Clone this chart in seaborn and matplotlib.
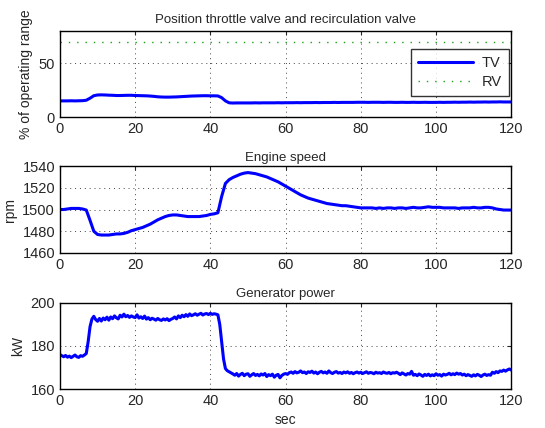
import numpy as np
import pandas as pd
import matplotlib
matplotlib.use('Agg')
import matplotlib.pyplot as plt
import seaborn as sns

# time axes
t_1s = np.arange(0, 121, 1.0)
t_half = np.arange(0, 120.5, 0.5)

# throttle valve position (% of operating range), 1 s steps
tv_pos = [15.0, 15.0, 15.0, 15.1, 15.0, 15.1, 15.2, 15.6,
          17.5, 19.8, 20.5, 20.6, 20.5, 20.3, 20.2, 20.0, 20.0, 20.1, 20.2, 20.2,
          20.0, 19.9, 19.8, 19.7, 19.5, 19.2, 18.8, 18.6, 18.5, 18.5,
          18.6, 18.7, 18.9, 19.1, 19.3, 19.5, 19.6, 19.7, 19.8, 19.8,
          19.7, 19.7, 19.6, 18.0, 15.0, 13.2, 13.0, 13.1, 13.1, 13.1,
          13.1, 13.1, 13.2, 13.1, 13.2, 13.2, 13.2, 13.2, 13.3, 13.2,
          13.3, 13.3, 13.3, 13.4, 13.3, 13.4, 13.4, 13.4, 13.5, 13.4,
          13.5, 13.5, 13.5, 13.6, 13.5, 13.6, 13.6, 13.6, 13.6, 13.7,
          13.7, 13.7, 13.6, 13.7, 13.7, 13.7, 13.6, 13.7, 13.7, 13.6,
          13.6, 13.7, 13.6, 13.6, 13.7, 13.6, 13.6, 13.7, 13.6, 13.6,
          13.6, 13.7, 13.6, 13.7, 13.7, 13.8, 13.7, 13.8, 13.8, 13.9,
          13.8, 13.9, 13.9, 14.0, 13.9, 14.0, 14.0, 14.1, 14.0, 14.0, 14.0]

# recirculation valve position, 1 s steps
rv_pos = [70.0] * 121

# engine speed (rpm), 1 s steps
engine_rpm = [1500, 1500, 1500.5, 1501, 1501, 1501, 1500.5, 1499.5, 1490, 1480,
              1477, 1476.5, 1476.5, 1476.5, 1477, 1477.5, 1477.5, 1478, 1479, 1480.5,
              1481.5, 1482.5, 1483.5, 1485, 1486.5, 1488.5, 1490.5, 1492, 1493.5, 1494.5,
              1495, 1495, 1494.5, 1494, 1493.5, 1493.5, 1493.5, 1493.5, 1494, 1494.5,
              1495.5, 1496, 1497, 1512, 1524, 1527.5, 1529.5, 1531, 1532.5, 1533.5,
              1534, 1533.5, 1533, 1532, 1531, 1530, 1528.5, 1527, 1525.5, 1523.5,
              1521.5, 1519.5, 1517.5, 1515.5, 1513.5, 1512, 1510.5, 1509.5, 1508.5, 1507.5,
              1506.5, 1505.5, 1505, 1504.5, 1504, 1503.5, 1503.5, 1503, 1502.5, 1502,
              1501.5, 1501.5, 1501.5, 1501.5, 1501, 1501.5, 1501, 1501.5, 1501.5, 1501,
              1501.5, 1501.5, 1501, 1501.5, 1502, 1501.5, 1501.5, 1502, 1502.5, 1502,
              1502, 1502, 1501.5, 1501.5, 1501.5, 1501.5, 1501, 1501.5, 1501.5, 1501.5,
              1502, 1501.5, 1501.5, 1502, 1502, 1501.5, 1500.5, 1500, 1499.5, 1499.5, 1499.5]

# generator power (kW), 0.5 s steps
gen_kw = [176, 175.5, 175, 175.6, 174.8, 175.3, 174.6, 175.2, 175.8, 175, 174.7, 175.5, 175.2, 175.8,
          176.5, 182, 189, 192.5,
          193.8, 192.3, 191.5, 192.8, 191.6, 193, 192.2, 193.4, 192, 193.5, 192.7, 194, 193.1, 192.6,
          194.3, 193.5, 194.8, 193.6, 194.2, 193.3, 194, 193.5,
          193.2, 194.5, 193, 193.6, 192.8, 193.9, 192.5, 193.2, 192.2, 192.9, 192.5, 192, 192.8, 192.2,
          191.9, 192.6, 192.1, 192.7, 191.8, 192.4,
          192.8, 193.5, 192.6, 194, 193.2, 194.3, 193.6, 194.6, 193.8, 194.9, 194.1, 194.5, 195, 194.3,
          194.8, 195.2, 194.4, 194.9, 195.1, 194.6, 195.2, 194.7, 195, 194.8,
          194.5, 190, 182, 174, 169.5, 168.5, 168, 167.5,
          167, 166.4, 167.2, 166, 166.8, 167.3, 166.2, 166.9, 167.1, 165.9, 166.6, 167.2, 166.3, 166.8,
          166.1, 167, 166.5, 167.2, 165.8, 166.7, 166.2, 166.9, 165.5, 166.4, 166.8, 165.2, 166.3, 166.9,
          167.2, 166.8, 167.6, 167.9, 167.3, 168.1, 167.5, 167.8, 168.4, 167.6, 167.9, 167.2, 168, 167.7,
          168.3, 167.4, 167.9, 167.1, 167.8, 168.2, 167.5, 167.9, 167.3, 168.4, 167.6, 167.2, 167.8, 168.1,
          167.4, 167.7, 167.2, 167.9, 167.5, 168, 167.3, 167.7, 167.1, 167.6, 167.9, 167.4, 167.8, 167.2,
          167.6, 168, 167.3, 167.7, 167.5, 167.1, 167.8, 167.4, 167.6, 167.2, 167.9, 167.5, 167.3, 167.7,
          167.1, 167.6, 167.4, 167.8,
          167.3, 166.7, 167.5, 167, 166.5, 167.2, 166.9, 168.2, 166.4, 166.8, 166.2, 167, 166.5, 165.9,
          166.8, 166.3, 166.9, 166.1, 166.6, 166.2, 167.1, 166.4, 166.7, 166, 166.9, 166.5, 166.8, 167.3,
          166.6, 167.1, 166.7, 167.4, 166.9, 167.2, 166.5, 166.9, 166.2, 166.7, 166.3, 165.9, 166.6, 166.1,
          166.8, 166.4, 165.8, 166.5, 166.9, 166.3, 166.7, 166.4,
          167.8, 167.3, 168.1, 167.6, 168.4, 168.2, 168.8, 168.3, 168.9, 169.3, 168.8]

x_ticks = [0, 20, 40, 60, 80, 100, 120]

if __name__ == '__main__':
    sns.set_style('white')
    plt.rcParams['font.family'] = ['Liberation Sans', 'DejaVu Sans']
    plt.rcParams['font.size'] = 10

    df_top = pd.DataFrame({'t': t_1s, 'TV': tv_pos, 'RV': rv_pos})
    df_mid = pd.DataFrame({'t': t_1s, 'rpm': engine_rpm})
    df_bot = pd.DataFrame({'t': t_half, 'kW': gen_kw})

    fig = plt.figure(figsize=(5.45, 4.28), dpi=100)
    ax_w = 0.828
    ax_l = 0.110
    ax1 = fig.add_axes([ax_l, 0.7266, ax_w, 0.201])
    ax2 = fig.add_axes([ax_l, 0.409, ax_w, 0.203])
    ax3 = fig.add_axes([ax_l, 0.0911, ax_w, 0.201])

    sns.lineplot(data=df_top, x='t', y='TV', ax=ax1, color='#0000ff', linewidth=2.2, label='TV')
    sns.lineplot(data=df_top, x='t', y='RV', ax=ax1, color='#1aa01a', linewidth=1.0,
                 linestyle=(0, (1, 5)), label='RV')
    sns.lineplot(data=df_mid, x='t', y='rpm', ax=ax2, color='#0000ff', linewidth=2.2)
    sns.lineplot(data=df_bot, x='t', y='kW', ax=ax3, color='#0000ff', linewidth=2.2)

    ax1.set_ylim(0, 80)
    ax1.set_yticks([0, 50])
    ax1.set_ylabel('% of operating range')
    ax1.set_title('Position throttle valve and recirculation valve', fontsize=9.5, pad=6)
    leg = ax1.legend(loc='upper right', bbox_to_anchor=(0.994, 0.79), borderaxespad=0,
                     frameon=True, fancybox=False, edgecolor='black', fontsize=10.5,
                     handlelength=3.8, borderpad=0.45, labelspacing=0.4, handletextpad=0.6)
    leg.get_frame().set_linewidth(1.0)

    ax2.set_ylim(1460, 1540)
    ax2.set_yticks([1460, 1480, 1500, 1520, 1540])
    ax2.set_ylabel('rpm')
    ax2.set_title('Engine speed', fontsize=9.5, pad=4)

    ax3.set_ylim(160, 200)
    ax3.set_yticks([160, 180, 200])
    ax3.set_ylabel('kW')
    ax3.set_title('Generator power', fontsize=9.5, pad=4)
    ax3.set_xlabel('sec')

    for ax in [ax1, ax2, ax3]:
        ax.set_xlim(0, 120)
        ax.set_xticks(x_ticks)
        if ax is not ax3:
            ax.set_xlabel('')
        ax.grid(True, linestyle=(0, (1, 4)), color='#444444', linewidth=0.7)
        ax.tick_params(direction='in', top=True, right=True, length=3, labelsize=10.5)
        for s in ax.spines.values():
            s.set_visible(True)
            s.set_color('black')
            s.set_linewidth(1.0)

    fig.savefig('out.png', dpi=100)
    plt.close(fig)
